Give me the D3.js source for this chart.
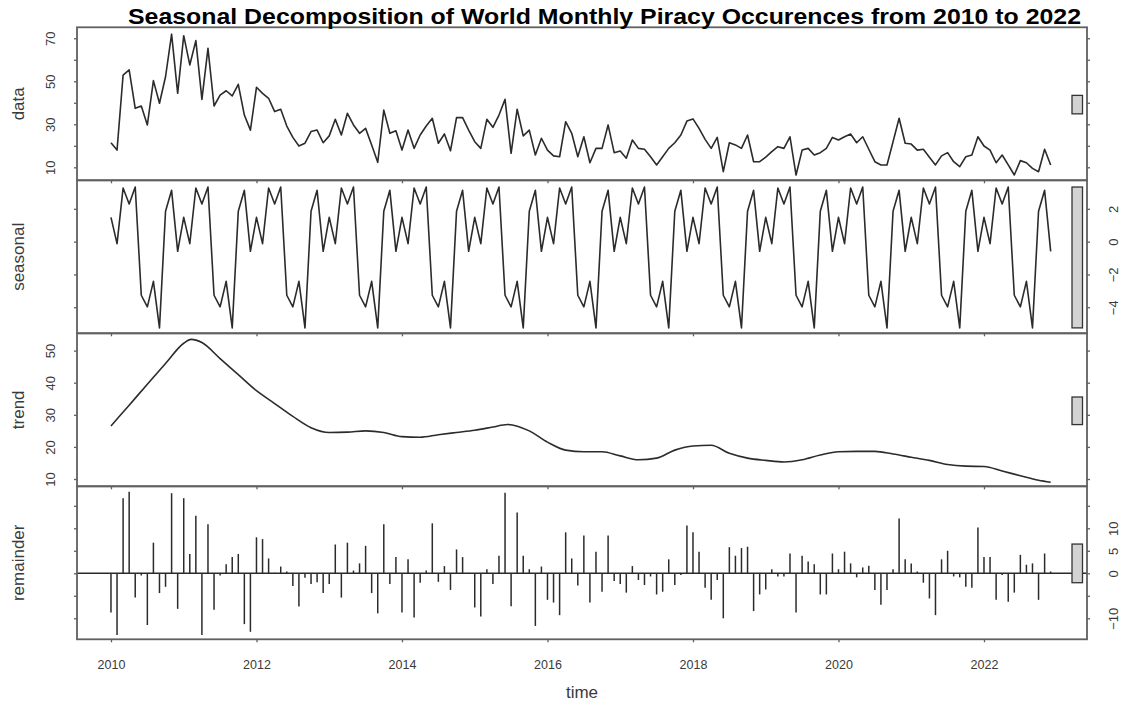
<!DOCTYPE html>
<html>
<head>
<meta charset="utf-8">
<script src="https://cdn.jsdelivr.net/npm/d3@7"></script>
<style>
  body { margin: 0; background: #fff; }
  svg { display: block; }
  text { font-family: "Liberation Sans", Arial, sans-serif; }
</style>
</head>
<body>
<svg id="chart" width="1122" height="705"></svg>
<script>
// Monthly series, January 2010 through December 2022
const startYear = 2010;

const observed = [
  21.4, 18.0, 52.9, 55.3, 37.4, 38.5, 29.7, 50.3, 39.8, 52.1, 71.9, 44.4,
  71.2, 57.6, 68.9, 41.6, 65.3, 38.5, 43.6, 45.6, 43.2, 48.6, 34.3, 27.3,
  47.2, 44.4, 42.1, 35.9, 37.0, 29.2, 23.9, 19.9, 21.2, 26.6, 27.3, 21.4,
  24.6, 32.3, 25.0, 35.1, 29.7, 25.8, 28.1, 20.4, 12.3, 36.6, 25.8, 27.0,
  18.0, 27.3, 18.8, 25.0, 29.2, 32.8, 21.2, 25.5, 17.7, 33.1, 33.1, 27.3,
  21.9, 18.8, 32.3, 28.6, 34.3, 41.6, 16.5, 37.0, 24.6, 27.3, 15.7, 23.5,
  18.0, 15.3, 14.9, 31.2, 25.8, 14.9, 24.2, 12.1, 18.8, 18.8, 29.7, 16.8,
  17.6, 14.2, 22.7, 18.8, 18.4, 14.9, 11.1, 14.9, 18.8, 21.4, 25.0, 31.5,
  32.5, 28.1, 23.0, 18.8, 23.9, 7.95, 21.4, 20.4, 18.8, 25.0, 12.6, 12.6,
  14.7, 17.3, 19.6, 18.8, 24.2, 6.4, 18.0, 18.8, 15.7, 16.8, 18.8, 23.9,
  22.7, 24.2, 25.5, 21.4, 24.2, 18.4, 12.6, 11.1, 11.1, 21.9, 32.8, 21.2,
  20.8, 18.0, 18.4, 14.7, 11.1, 15.3, 16.8, 12.6, 10.3, 14.9, 15.7, 24.2,
  19.9, 18.0, 12.1, 15.7, 11.1, 6.4, 13.1, 12.1, 9.5, 7.95, 18.4, 11.1
];

// Periodic seasonal effect, January .. December
const seasonalCycle = [1.48, -0.12, 3.27, 2.3, 3.33, -3.27, -3.98, -2.42, -5.26, 1.85, 3.13, -0.59];

// Smooth trend, sampled quarterly
const trendTimes = [
  2010.00, 2010.25, 2010.50, 2010.75, 2011.00, 2011.10, 2011.25, 2011.50, 2011.75,
  2012.00, 2012.25, 2012.50, 2012.75, 2013.00, 2013.25, 2013.50, 2013.75,
  2014.00, 2014.25, 2014.50, 2014.75, 2015.00, 2015.25, 2015.45, 2015.75,
  2016.00, 2016.25, 2016.50, 2016.75, 2017.00, 2017.25, 2017.50, 2017.75,
  2018.00, 2018.25, 2018.50, 2018.75, 2019.00, 2019.25, 2019.50, 2019.75,
  2020.00, 2020.25, 2020.50, 2020.75, 2021.00, 2021.25, 2021.50, 2021.75,
  2022.00, 2022.25, 2022.50, 2022.75, 2022.917
];
const trendValues = [
  26.5, 33.0, 39.5, 46.0, 52.3, 53.5, 52.5, 47.5, 42.5,
  37.5, 33.5, 29.5, 26.0, 24.5, 24.6, 25.0, 24.5,
  23.2, 23.0, 23.8, 24.5, 25.2, 26.2, 27.0, 25.0,
  21.5, 19.0, 18.5, 18.5, 17.2, 16.0, 16.5, 19.0,
  20.3, 20.5, 18.0, 16.5, 15.8, 15.3, 16.0, 17.5,
  18.5, 18.6, 18.6, 17.8, 16.8, 15.8, 14.5, 14.0,
  13.9, 12.5, 11.0, 9.6, 9.0
];

const remainder = [
  -8.7, -13.7, 16.7, 18.1, -5.4, -0.5, -11.5, 6.8, -4.4, -3.0, 17.8, -7.9,
  16.7, 4.3, 12.8, -13.7, 10.9, -8.1, -0.5, 2.0, 3.6, 4.3, -11.3, -13.0,
  8.0, 7.6, 3.3, 0.1, 1.5, 0.4, -2.8, -7.4, -1.0, -2.4, -2.0, -4.4,
  -2.4, 6.4, -5.4, 6.8, 0.6, 2.2, 6.1, -4.4, -8.9, 10.9, -2.4, 3.6,
  -8.7, 3.1, -9.8, -2.1, 0.6, 11.1, -1.9, 1.6, -3.7, 5.3, 3.6, 0.1,
  -7.6, -9.6, 0.9, -2.4, 3.9, 17.9, -7.3, 13.5, 3.9, 0.9, -11.7, 1.5,
  -5.9, -6.5, -9.3, 9.1, 3.3, -2.7, 8.4, -6.5, 4.8, -4.1, 8.4, -1.7,
  -2.4, -4.3, 1.6, -1.5, -2.6, -0.7, -4.7, -4.1, 3.1, -2.6, -0.4, 10.6,
  9.1, 4.8, -3.2, -5.9, -1.5, -10.0, 5.8, 3.9, 5.6, 5.9, -8.4, -4.7,
  -3.6, 0.9, -0.7, -0.7, 4.4, -8.7, 3.9, 2.6, 2.0, -4.7, -4.7, 4.4,
  0.9, 4.8, 2.2, -0.9, 1.3, 1.7, -3.7, -7.0, -3.7, 0.9, 12.2, 3.1,
  2.2, 0.4, -2.1, -5.6, -9.3, 3.1, 5.0, -0.7, -0.9, -3.0, -3.2, 10.2,
  3.6, 3.6, -5.9, -0.4, -6.3, -4.3, 4.1, 1.9, 2.2, -5.9, 4.4, 0.4
];

const yearTicks = [2010, 2012, 2014, 2016, 2018, 2020, 2022];
const panelLabels = ["data", "seasonal", "trend", "remainder"];
const titleText = "Seasonal Decomposition of World Monthly Piracy Occurences from 2010 to 2022";

// Per-panel axis ticks (all drawn) and which of them carry a label
const dataTicks = [10, 20, 30, 40, 50, 60, 70];
const dataTickLabels = [10, 30, 50, 70];
const seasonalTicks = [-4, -2, 0, 2];
const trendTicks = [10, 20, 30, 40, 50];
const remainderTicks = [-10, -5, 0, 5, 10, 15];
const remainderTickLabels = [-10, 0, 5, 10];

// ---------------------------------------------------------------
const svg = d3.select("#chart");
const months = d3.range(observed.length);
const timeOf = m => startYear + m / 12;
const seasonal = months.map(m => seasonalCycle[m % 12]);

const left = 77, right = 1087;
const panelTop0 = 27.3, panelH = 153;
const x = d3.scaleLinear().domain([2009.533, 2023.416]).range([left, right]);

const panels = [
  { key: "data",      domain: [3.95, 75.1],    ticks: dataTicks,      labels: dataTickLabels,      side: "left" },
  { key: "seasonal",  domain: [-5.59, 3.74],   ticks: seasonalTicks,  labels: seasonalTicks,       side: "right" },
  { key: "trend",     domain: [7.73, 55.39],   ticks: trendTicks,     labels: trendTicks,          side: "left" },
  { key: "remainder", domain: [-14.67, 19.33], ticks: remainderTicks, labels: remainderTickLabels, side: "right" }
];

const seriesByKey = {
  data: months.map(m => [timeOf(m), observed[m]]),
  seasonal: months.map(m => [timeOf(m), seasonal[m]]),
  trend: trendTimes.map((t, i) => [t, trendValues[i]]),
  remainder: months.map(m => [timeOf(m), remainder[m]])
};

// range bars share the height of the smallest component range
const ranges = Object.fromEntries(Object.entries(seriesByKey).map(([k, s]) => [k, d3.extent(s, d => d[1])]));
const minSpan = d3.min(Object.values(ranges), r => r[1] - r[0]);

const lineColor = "#2b2b2b";
const boxColor = "#606060";
const textColor = "#3a3a3a";
const tickLen = 3;

panels.forEach((p, i) => {
  const top = panelTop0 + i * panelH, bottom = top + panelH;
  const y = d3.scaleLinear().domain(p.domain).range([bottom, top]);
  const g = svg.append("g");
  const series = seriesByKey[p.key];

  if (p.key === "remainder") {
    g.append("line")
      .attr("x1", left).attr("x2", right)
      .attr("y1", y(0)).attr("y2", y(0))
      .attr("stroke", lineColor).attr("stroke-width", 1.5);
    g.selectAll("line.bar").data(series).join("line")
      .attr("class", "bar")
      .attr("x1", d => x(d[0])).attr("x2", d => x(d[0]))
      .attr("y1", y(0)).attr("y2", d => y(d[1]))
      .attr("stroke", lineColor).attr("stroke-width", 1.5);
  } else {
    const line = d3.line().x(d => x(d[0])).y(d => y(d[1]));
    if (p.key === "trend") line.curve(d3.curveMonotoneX);
    g.append("path").datum(series)
      .attr("d", line)
      .attr("fill", "none").attr("stroke", lineColor)
      .attr("stroke-width", 1.6).attr("stroke-linejoin", "round");
  }

  // range bar
  const r = ranges[p.key], mid = (r[0] + r[1]) / 2;
  const pxPerUnit = panelH / (p.domain[1] - p.domain[0]);
  g.append("rect")
    .attr("x", 1072).attr("width", 10.5)
    .attr("y", y(mid) - minSpan / 2 * pxPerUnit)
    .attr("height", minSpan * pxPerUnit)
    .attr("fill", "#d3d3d3").attr("stroke", "#333").attr("stroke-width", 1.3);

  // box
  g.append("rect")
    .attr("x", left).attr("y", top).attr("width", right - left).attr("height", panelH)
    .attr("fill", "none").attr("stroke", boxColor).attr("stroke-width", 1.8);

  // left and right ticks
  const leftAxis = d3.axisLeft(y).tickValues(p.ticks).tickSizeOuter(0).tickSizeInner(tickLen)
    .tickFormat(d => (p.side === "left" && p.labels.includes(d)) ? d3.format("d")(d) : "");
  const rightAxis = d3.axisRight(y).tickValues(p.ticks).tickSizeOuter(0).tickSizeInner(tickLen)
    .tickFormat(d => (p.side === "right" && p.labels.includes(d)) ? d3.format("d")(d) : "");

  [[leftAxis, left, -1], [rightAxis, right, 1]].forEach(([ax, ox, dir]) => {
    const a = g.append("g").attr("transform", `translate(${ox},0)`).call(ax);
    a.select(".domain").remove();
    a.selectAll(".tick line").attr("stroke", boxColor).attr("stroke-width", 1.3);
    a.selectAll(".tick text")
      .attr("x", null).attr("dy", null)
      .attr("fill", textColor).style("font-size", "13px")
      .attr("text-anchor", "middle")
      .attr("transform", `translate(${dir < 0 ? -22 : 31},0) rotate(-90)`);
  });

  // bottom ticks for each panel
  const bAxis = d3.axisBottom(x).tickValues(yearTicks).tickSizeOuter(0).tickSizeInner(tickLen)
    .tickFormat(i === panels.length - 1 ? d3.format("d") : () => "");
  const b = g.append("g").attr("transform", `translate(0,${bottom})`).call(bAxis);
  b.select(".domain").remove();
  b.selectAll(".tick line").attr("stroke", boxColor).attr("stroke-width", 1.3);
  b.selectAll(".tick text").attr("y", 21).attr("fill", textColor).style("font-size", "12.5px");

  // panel label
  svg.append("text")
    .attr("transform", `translate(24,${top + panelH / 2}) rotate(-90)`)
    .attr("text-anchor", "middle")
    .attr("fill", textColor).style("font-size", "17px")
    .text(panelLabels[i]);
});

svg.append("text")
  .attr("x", 582).attr("y", 698)
  .attr("text-anchor", "middle")
  .attr("fill", textColor).style("font-size", "17px")
  .text("time");

svg.append("text")
  .attr("x", 128).attr("y", 24)
  .attr("textLength", 953).attr("lengthAdjust", "spacingAndGlyphs")
  .attr("fill", "#000").style("font-size", "22px").style("font-weight", "bold")
  .text(titleText);
</script>
</body>
</html>
